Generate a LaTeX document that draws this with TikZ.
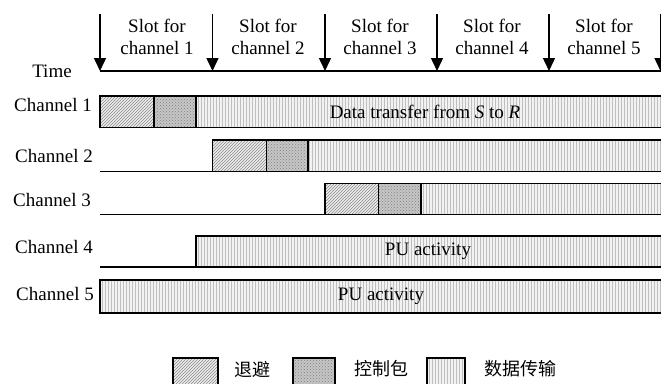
\documentclass[tikz,border=0pt]{standalone}
\usepackage{fontspec}
\setmainfont{Liberation Serif}
\newfontfamily\cjk{Noto Sans CJK SC}
\usetikzlibrary{patterns,arrows.meta}

\tikzset{
  lbl/.style={font=\fontsize{19}{22}\selectfont, inner sep=0pt},
  cjklbl/.style={font=\cjk\fontsize{18}{20}\selectfont, inner sep=0pt},
  edge/.style={draw=black, line width=1.4pt},
  backoff/.style={edge, preaction={fill=gray!15}, pattern=north east lines, pattern color=gray!90},
  ctrl/.style={edge, preaction={fill=gray!45}, pattern=crosshatch dots, pattern color=gray},
  xfer/.style={edge, preaction={fill=gray!10}, pattern=vertical lines, pattern color=gray!50},
  tick/.style={line width=1.5pt, -{Triangle[length=13pt,width=12pt]}},
  idle/.style={line width=1.4pt}
}

\begin{document}
\begin{tikzpicture}[x=1pt,y=-1pt]
\useasboundingbox (0,0) rectangle (661,383);
\clip (0,0) rectangle (661,383);

% time axis with slot boundaries
\coordinate (ax0) at (100,71);
\coordinate (ax1) at (670,71);
\draw[idle] (ax0) -- (ax1);
\foreach \i/\x in {0/100,1/212.5,2/325,3/437,4/549,5/660.5}{
  \coordinate (top\i) at (\x,14);
  \coordinate (tip\i) at (\x,71);
  \draw[tick] (top\i) -- (tip\i);
}
\node[lbl] (time) at (52,71) {Time};
\foreach \i/\x in {1/157,2/268,3/380,4/492,5/604}{
  \node[lbl, align=center] (slot\i) at (\x,37) {Slot for\\channel \i};
}

% channel labels
\node[lbl] (c1) at (53,105) {Channel 1};
\node[lbl] (c2) at (54,156) {Channel 2};
\node[lbl] (c3) at (52,200) {Channel 3};
\node[lbl] (c4) at (54,247) {Channel 4};
\node[lbl] (c5) at (55,294) {Channel 5};

% channel 1
\path[xfer] (196,96) rectangle (670,127.5);
\path[backoff] (100,96) rectangle (154,127.5);
\path[ctrl] (154,96) rectangle (196,127.5);
\node[lbl] (d1) at (425,112) {Data transfer from \textit{S} to \textit{R}};

% channel 2
\coordinate (l2a) at (100,171.5);
\coordinate (l2b) at (212.5,171.5);
\draw[idle] (l2a) -- (l2b);
\path[xfer] (308,140) rectangle (670,171.5);
\path[backoff] (212.5,140) rectangle (266.5,171.5);
\path[ctrl] (266.5,140) rectangle (308,171.5);

% channel 3
\coordinate (l3a) at (100,214.5);
\coordinate (l3b) at (325,214.5);
\draw[idle] (l3a) -- (l3b);
\path[xfer] (421,183.5) rectangle (670,214.5);
\path[backoff] (325,183.5) rectangle (378.5,214.5);
\path[ctrl] (378.5,183.5) rectangle (421,214.5);

% channel 4
\coordinate (l4a) at (100,267);
\coordinate (l4b) at (196,267);
\draw[idle] (l4a) -- (l4b);
\path[xfer] (196,236) rectangle (670,267);
\node[lbl] (pu4) at (428,251) {PU activity};

% channel 5
\path[xfer] (100,280) rectangle (670,313);
\node[lbl] (pu5) at (381,296) {PU activity};

% legend
\path[backoff] (173,358) rectangle (218,392);
\node[cjklbl] (k1) at (252,369) {退避};
\path[ctrl] (293,358) rectangle (335,392);
\node[cjklbl] (k2) at (381,369) {控制包};
\path[xfer] (427,358) rectangle (465,392);
\node[cjklbl] (k3) at (520,369) {数据传输};
\end{tikzpicture}
\end{document}
